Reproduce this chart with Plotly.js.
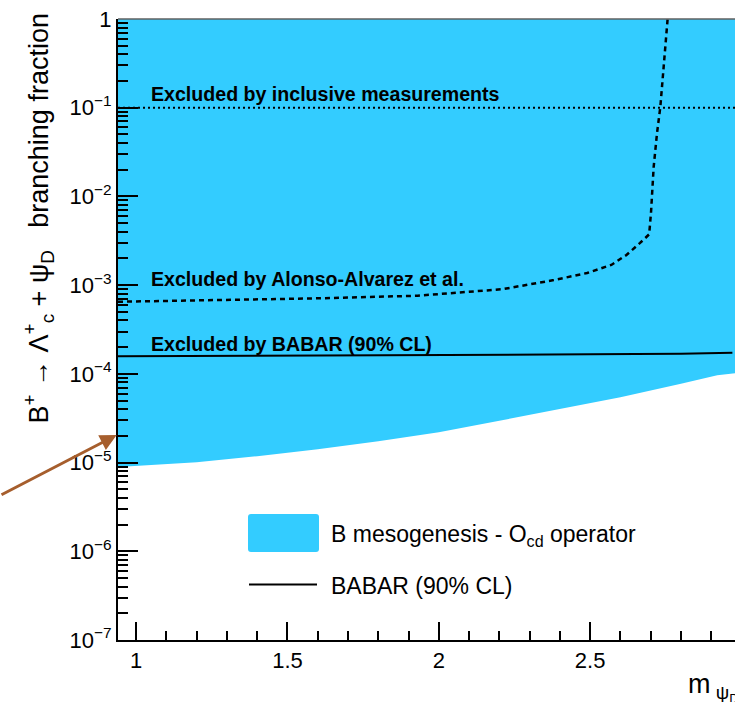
<!DOCTYPE html>
<html><head><meta charset="utf-8">
<script src="https://cdn.plot.ly/plotly-3.0.1.min.js"></script>
<style>html,body{margin:0;padding:0;overflow:hidden;background:#fff;width:735px;height:702px}</style>
</head><body><div id="chart" style="width:832px;height:702px"></div>
<script>
// ---- data ----
const massBand = [0.94, 1.2, 1.4, 1.6, 1.8, 2.0, 2.2, 2.4, 2.6, 2.8, 2.92, 3.0, 3.2];
const bandLower = [8.9e-6, 1.01e-5, 1.18e-5, 1.41e-5, 1.74e-5, 2.20e-5, 2.96e-5, 4.0e-5, 5.46e-5, 7.75e-5, 9.67e-5, 1.03e-4, 1.12e-4];
const bandUpper = [1, 1, 1, 1, 1, 1, 1, 1, 1, 1, 1, 1, 1];
const massAlonso = [0.94, 1.6, 1.93, 2.21, 2.38, 2.49, 2.57, 2.62, 2.665, 2.695, 2.701, 2.71, 2.721, 2.732, 2.743, 2.756];
const alonso = [6.5e-4, 7.1e-4, 7.6e-4, 9.0e-4, 1.14e-3, 1.37e-3, 1.69e-3, 2.19e-3, 2.99e-3, 3.74e-3, 6.5e-3, 0.0217, 0.0517, 0.103, 0.292, 1.0];
const massBabar = [0.94, 1.2, 1.5, 2.0, 2.5, 2.8, 2.97];
const babar = [1.58e-4, 1.59e-4, 1.60e-4, 1.62e-4, 1.66e-4, 1.69e-4, 1.73e-4];
const massInclusive = [0.94, 3.2];
const inclusive = [0.1, 0.1];
const yTickVals = [1e-7, 1e-6, 1e-5, 1e-4, 1e-3, 1e-2, 1e-1, 1];
const yTickText = ['10<sup>\u22127</sup>', '10<sup>\u22126</sup>', '10<sup>\u22125</sup>', '10<sup>\u22124</sup>', '10<sup>\u22123</sup>', '10<sup>\u22122</sup>', '10<sup>\u22121</sup>', '1'];
const legendNames = ['B mesogenesis - O<sub>cd</sub> operator', 'BABAR (90% CL)'];
const labelTexts = ['Excluded by inclusive measurements', 'Excluded by Alonso-Alvarez et al.', 'Excluded by BABAR (90% CL)'];

// ---- styling helpers ----
const FONT = 'Liberation Sans, Arial, Helvetica, sans-serif';
const BLUE = '#33CCFF';
const L = 118, W = 684, T = 19, H = 621;
const px = v => (v - L) / W;          // pixel x -> paper
const py = v => (T + H - v) / H;      // pixel y -> paper

const minorY = [];
for (let e = -7; e < 0; e++) for (let k = 2; k <= 9; k++) minorY.push(k * Math.pow(10, e));

const traces = [
  {x: massBand, y: bandLower, mode: 'lines', line: {width: 0, color: BLUE}, showlegend: false, hoverinfo: 'skip'},
  {x: massBand, y: bandUpper, mode: 'lines', fill: 'tonexty', fillcolor: BLUE, line: {width: 0, color: BLUE},
   name: legendNames[0], showlegend: false},
  {x: massInclusive, y: inclusive, mode: 'lines', line: {color: 'black', width: 2, dash: '2px,3px'}, showlegend: false},
  {x: massAlonso, y: alonso, mode: 'lines', line: {color: 'black', width: 2.5, dash: '5px,4px'}, showlegend: false},
  {x: massBabar, y: babar, mode: 'lines', line: {color: 'black', width: 2}, name: legendNames[1], showlegend: false}
];

function rrect(x0, y0, x1, y1, r) {
  const X = v => px(v), Y = v => py(v);
  return `M${X(x0 + r)},${Y(y0)} L${X(x1 - r)},${Y(y0)} Q${X(x1)},${Y(y0)} ${X(x1)},${Y(y0 + r)} ` +
         `L${X(x1)},${Y(y1 - r)} Q${X(x1)},${Y(y1)} ${X(x1 - r)},${Y(y1)} L${X(x0 + r)},${Y(y1)} ` +
         `Q${X(x0)},${Y(y1)} ${X(x0)},${Y(y1 - r)} L${X(x0)},${Y(y0 + r)} Q${X(x0)},${Y(y0)} ${X(x0 + r)},${Y(y0)} Z`;
}

const layout = {
  width: 832, height: 702,
  margin: {l: L, r: 832 - L - W, t: T, b: 702 - T - H},
  paper_bgcolor: 'white', plot_bgcolor: 'white',
  font: {family: FONT, color: 'black'},
  showlegend: false,
  xaxis: {
    range: [0.94, 3.2], showline: true, linecolor: 'black', linewidth: 2,
    ticks: 'inside', ticklen: 18, tickwidth: 2, tickcolor: 'black', dtick: 0.5, tick0: 0,
    minor: {dtick: 0.1, tick0: 0, ticks: 'inside', ticklen: 9, tickwidth: 2, tickcolor: 'black', showgrid: false},
    showgrid: false, zeroline: false, tickfont: {size: 22, family: FONT}, layer: 'above traces'
  },
  yaxis: {
    type: 'log', range: [-7, 0], showline: true, linecolor: 'black', linewidth: 2,
    tickmode: 'array', tickvals: yTickVals, ticktext: yTickText,
    ticks: 'inside', ticklen: 20, tickwidth: 2, tickcolor: 'black',
    minor: {tickmode: 'array', tickvals: minorY, ticks: 'inside', ticklen: 10, tickwidth: 2, tickcolor: 'black', showgrid: false},
    showgrid: false, zeroline: false, tickfont: {size: 22, family: FONT}, layer: 'above traces'
  },
  shapes: [
    {type: 'line', xref: 'paper', yref: 'paper', x0: 0, x1: 1, y0: 1, y1: 1, line: {color: '#606060', width: 1.5}},
    {type: 'path', xref: 'paper', yref: 'paper', path: rrect(248, 514, 319, 552, 3), fillcolor: BLUE, line: {width: 0}},
    {type: 'line', xref: 'paper', yref: 'paper', x0: px(249), x1: px(317), y0: py(584.5), y1: py(584.5), line: {color: 'black', width: 2}}
  ],
  annotations: [
    {xref: 'paper', yref: 'paper', x: px(150), y: py(94), xanchor: 'left', yanchor: 'middle', showarrow: false,
     text: labelTexts[0], font: {size: 19.6, family: FONT, weight: 'bold'}, borderpad: 0},
    {xref: 'paper', yref: 'paper', x: px(150), y: py(278.5), xanchor: 'left', yanchor: 'middle', showarrow: false,
     text: labelTexts[1], font: {size: 19.6, family: FONT, weight: 'bold'}, borderpad: 0},
    {xref: 'paper', yref: 'paper', x: px(150), y: py(344), xanchor: 'left', yanchor: 'middle', showarrow: false,
     text: labelTexts[2], font: {size: 19.6, family: FONT, weight: 'bold'}, borderpad: 0},
    {xref: 'paper', yref: 'paper', x: px(330), y: py(535), xanchor: 'left', yanchor: 'middle', showarrow: false,
     text: legendNames[0], font: {size: 23, family: FONT}, borderpad: 0},
    {xref: 'paper', yref: 'paper', x: px(330), y: py(585.5), xanchor: 'left', yanchor: 'middle', showarrow: false,
     text: legendNames[1], font: {size: 23, family: FONT}, borderpad: 0},
    {xref: 'paper', yref: 'paper', x: px(116.7), y: py(435), ax: -137, ay: 60.5, axref: 'pixel', ayref: 'pixel',
     showarrow: true, arrowhead: 2, arrowsize: 1.1, arrowwidth: 3, arrowcolor: '#A65E2D', standoff: 0, text: ''},
    {xref: 'paper', yref: 'paper', x: px(38), y: py(218.5), xanchor: 'center', yanchor: 'middle', showarrow: false, textangle: -90,
     text: 'B<sup>+</sup> \u2192 \u039B<sup>+</sup><sub>c</sub> + \u03C8<sub>D</sub>\u00a0\u00a0\u00a0branching fraction',
     font: {size: 27, family: FONT}, borderpad: 0},
    {xref: 'paper', yref: 'paper', x: px(687), y: py(668), xanchor: 'left', yanchor: 'top', showarrow: false,
     text: 'm<sub> \u03C8<sub>D</sub></sub> [GeV]', font: {size: 27, family: FONT}, borderpad: 0}
  ]
};

Plotly.newPlot('chart', traces, layout, {displayModeBar: false, staticPlot: true});
</script></body></html>
